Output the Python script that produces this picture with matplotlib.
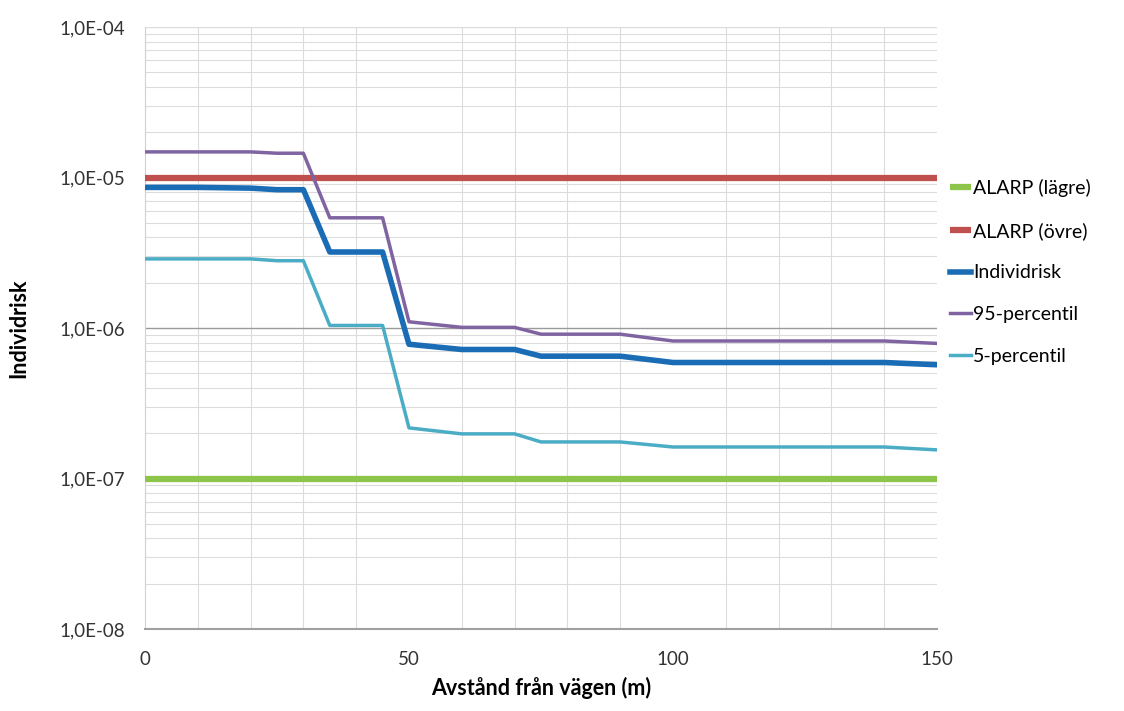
from matplotlib import pyplot as plt
from matplotlib.ticker import FixedLocator, LogLocator, NullFormatter
import numpy as np

# distance from road (m)
dist = [0, 10, 20, 25, 30, 35, 40, 45, 50, 60, 70, 75, 80, 90,
        100, 110, 120, 130, 140, 150]

individrisk = [8.6e-6, 8.6e-6, 8.5e-6, 8.3e-6, 8.3e-6, 3.2e-6, 3.2e-6, 3.2e-6,
               7.8e-7, 7.2e-7, 7.2e-7, 6.5e-7, 6.5e-7, 6.5e-7,
               5.9e-7, 5.9e-7, 5.9e-7, 5.9e-7, 5.9e-7, 5.7e-7]
p95 = [1.48e-5, 1.48e-5, 1.48e-5, 1.45e-5, 1.45e-5, 5.4e-6, 5.4e-6, 5.4e-6,
       1.1e-6, 1.01e-6, 1.01e-6, 9.1e-7, 9.1e-7, 9.1e-7,
       8.2e-7, 8.2e-7, 8.2e-7, 8.2e-7, 8.2e-7, 7.9e-7]
p5 = [2.88e-6, 2.88e-6, 2.88e-6, 2.8e-6, 2.8e-6, 1.04e-6, 1.04e-6, 1.04e-6,
      2.17e-7, 1.98e-7, 1.98e-7, 1.75e-7, 1.75e-7, 1.75e-7,
      1.62e-7, 1.62e-7, 1.62e-7, 1.62e-7, 1.62e-7, 1.55e-7]
alarp_low = 1e-7
alarp_high = 1e-5

y_ticks = [1e-8, 1e-7, 1e-6, 1e-5, 1e-4]
y_labels = ['1,0E-08', '1,0E-07', '1,0E-06', '1,0E-05', '1,0E-04']

plt.rcParams['font.family'] = ['Lato', 'DejaVu Sans']

fig = plt.figure(figsize=(11.24, 7.11), dpi=100)
ax = fig.add_axes([0.129, 0.1153, 0.7046, 0.8467])

ax.set_yscale('log')
ax.set_xlim(0, 150)
ax.set_ylim(1e-8, 1e-4)

ax.plot([0, 150], [alarp_low, alarp_low], color='#8dc44a', lw=4.5,
        label='ALARP (lägre)', zorder=3, solid_capstyle='butt')
ax.plot([0, 150], [alarp_high, alarp_high], color='#c0504d', lw=4.5,
        label='ALARP (övre)', zorder=3, solid_capstyle='butt')
ax.plot(dist, individrisk, color='#1a6db5', lw=4.0, label='Individrisk',
        zorder=4)
ax.plot(dist, p95, color='#8064a2', lw=2.5, label='95-percentil', zorder=4)
ax.plot(dist, p5, color='#4bacc6', lw=2.5, label='5-percentil', zorder=4)

ax.yaxis.set_major_locator(FixedLocator(y_ticks))
ax.set_yticklabels(y_labels)
ax.yaxis.set_minor_locator(LogLocator(base=10, subs=np.arange(2, 10)))
ax.yaxis.set_minor_formatter(NullFormatter())
ax.set_xticks([0, 50, 100, 150])
ax.xaxis.set_minor_locator(FixedLocator(np.arange(0, 151, 10)))

ax.grid(which='major', axis='y', color='#9a9a9a', lw=1.0)
ax.grid(which='minor', axis='y', color='#dcdcdc', lw=0.8)
ax.grid(which='minor', axis='x', color='#dcdcdc', lw=0.8)
ax.set_axisbelow(True)
ax.get_ygridlines()[-1].set_color('#dcdcdc')

for side in ('top', 'right'):
    ax.spines[side].set_visible(False)
ax.spines['left'].set_color('#d0d0d0')
ax.spines['bottom'].set_color('#a0a0a0')
ax.spines['bottom'].set_linewidth(1.5)
ax.tick_params(axis='both', which='both', length=0, labelsize=13.5,
               colors='#333333')
ax.tick_params(axis='x', pad=16)
ax.tick_params(axis='y', pad=14)

ax.set_xlabel('Avstånd från vägen (m)', fontsize=15.5, fontweight='bold',
              labelpad=6)
ax.set_ylabel('Individrisk', fontsize=15.5, fontweight='bold', labelpad=22)

fig.legend(loc='upper left', bbox_to_anchor=(0.838, 0.759), frameon=False,
           fontsize=14, handlelength=1.1, handletextpad=0.1,
           labelspacing=1.27, borderaxespad=0)

fig.savefig('out.png', dpi=100)
